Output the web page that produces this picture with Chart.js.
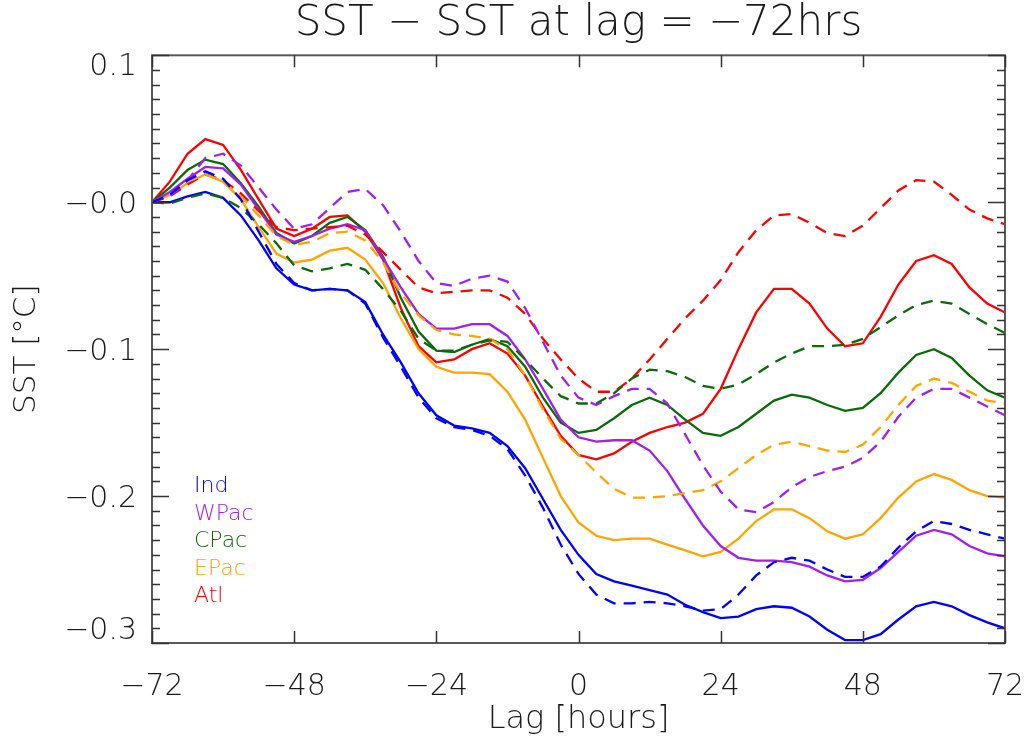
<!DOCTYPE html>
<html>
<head>
<meta charset="utf-8">
<title>SST − SST at lag = −72hrs</title>
<script src="https://cdn.jsdelivr.net/npm/chart.js@4/dist/chart.umd.min.js"></script>
<style>
  html, body { margin: 0; padding: 0; background: #ffffff; }
  canvas { display: block; }
</style>
</head>
<body>
<canvas id="sst" width="1027" height="744"></canvas>
<script>
// Lag in hours relative to the event
const hours = [-72, -69, -66, -63, -60, -57, -54, -51, -48, -45, -42, -39, -36,
  -33, -30, -27, -24, -21, -18, -15, -12, -9, -6, -3, 0,
  3, 6, 9, 12, 15, 18, 21, 24, 27, 30, 33, 36,
  39, 42, 45, 48, 51, 54, 57, 60, 63, 66, 69, 72];

// SST anomaly relative to lag -72 h (°C); solid and dashed composites per basin
const indSolid = [0, 0, 0.004, 0.007, 0.003, -0.009, -0.026, -0.045, -0.056, -0.060, -0.059, -0.060, -0.068,
  -0.090, -0.109, -0.130, -0.145, -0.152, -0.154, -0.157, -0.166, -0.181, -0.202, -0.223, -0.240,
  -0.253, -0.258, -0.261, -0.264, -0.267, -0.274, -0.279, -0.283, -0.282, -0.277, -0.275, -0.276,
  -0.282, -0.291, -0.298, -0.298, -0.294, -0.284, -0.275, -0.272, -0.275, -0.281, -0.286, -0.290];
const indDash = [0, 0.005, 0.015, 0.021, 0.016, 0.002, -0.020, -0.042, -0.055, -0.060, -0.059, -0.060, -0.069,
  -0.092, -0.112, -0.133, -0.147, -0.153, -0.155, -0.159, -0.168, -0.186, -0.208, -0.233, -0.253,
  -0.267, -0.273, -0.273, -0.272, -0.273, -0.275, -0.278, -0.277, -0.267, -0.254, -0.245, -0.242,
  -0.244, -0.250, -0.255, -0.255, -0.248, -0.235, -0.224, -0.217, -0.219, -0.223, -0.226, -0.229];
const wpacSolid = [0, 0.007, 0.016, 0.024, 0.023, 0.012, -0.005, -0.022, -0.027, -0.023, -0.018, -0.015, -0.019,
  -0.038, -0.058, -0.076, -0.086, -0.086, -0.083, -0.083, -0.091, -0.107, -0.127, -0.148, -0.160,
  -0.163, -0.162, -0.162, -0.169, -0.183, -0.202, -0.220, -0.234, -0.242, -0.244, -0.244, -0.245,
  -0.248, -0.254, -0.258, -0.257, -0.249, -0.238, -0.227, -0.223, -0.226, -0.234, -0.239, -0.241];
const wpacDash = [0, 0.004, 0.015, 0.030, 0.033, 0.025, 0.010, -0.005, -0.018, -0.015, -0.004, 0.007, 0.009,
  -0.002, -0.020, -0.040, -0.055, -0.057, -0.052, -0.050, -0.054, -0.072, -0.095, -0.118, -0.133,
  -0.138, -0.132, -0.127, -0.127, -0.137, -0.158, -0.179, -0.197, -0.209, -0.211, -0.204, -0.194,
  -0.187, -0.183, -0.180, -0.174, -0.163, -0.146, -0.133, -0.127, -0.127, -0.133, -0.139, -0.145];
const cpacSolid = [0, 0.010, 0.022, 0.029, 0.026, 0.013, -0.003, -0.021, -0.028, -0.023, -0.014, -0.010, -0.019,
  -0.037, -0.065, -0.088, -0.101, -0.102, -0.097, -0.093, -0.098, -0.112, -0.133, -0.150, -0.157,
  -0.155, -0.147, -0.138, -0.133, -0.138, -0.148, -0.157, -0.159, -0.153, -0.144, -0.135, -0.131,
  -0.133, -0.138, -0.142, -0.140, -0.130, -0.116, -0.104, -0.100, -0.106, -0.118, -0.128, -0.133];
const cpacDash = [0, -0.001, 0.003, 0.006, 0.003, -0.004, -0.015, -0.028, -0.043, -0.047, -0.045, -0.042, -0.046,
  -0.059, -0.074, -0.093, -0.101, -0.101, -0.097, -0.094, -0.095, -0.107, -0.120, -0.132, -0.137,
  -0.137, -0.130, -0.120, -0.114, -0.115, -0.119, -0.125, -0.127, -0.124, -0.117, -0.109, -0.103,
  -0.098, -0.098, -0.097, -0.093, -0.085, -0.077, -0.070, -0.067, -0.069, -0.076, -0.083, -0.089];
const epacSolid = [0, 0.005, 0.013, 0.019, 0.014, 0.002, -0.017, -0.035, -0.041, -0.039, -0.033, -0.031, -0.039,
  -0.055, -0.079, -0.100, -0.112, -0.116, -0.116, -0.117, -0.129, -0.148, -0.174, -0.200, -0.218,
  -0.227, -0.230, -0.229, -0.229, -0.233, -0.237, -0.241, -0.238, -0.229, -0.217, -0.209, -0.209,
  -0.215, -0.224, -0.229, -0.226, -0.215, -0.201, -0.190, -0.185, -0.189, -0.196, -0.200, -0.201];
const epacDash = [0, 0.005, 0.014, 0.019, 0.014, 0.004, -0.009, -0.023, -0.029, -0.027, -0.021, -0.020, -0.026,
  -0.041, -0.062, -0.077, -0.087, -0.090, -0.091, -0.093, -0.100, -0.118, -0.141, -0.161, -0.172,
  -0.184, -0.195, -0.201, -0.201, -0.200, -0.198, -0.196, -0.190, -0.181, -0.172, -0.165, -0.163,
  -0.166, -0.169, -0.170, -0.165, -0.153, -0.138, -0.125, -0.120, -0.123, -0.129, -0.135, -0.137];
const atlSolid = [0, 0.014, 0.033, 0.043, 0.039, 0.022, 0.002, -0.018, -0.023, -0.018, -0.010, -0.009, -0.020,
  -0.039, -0.072, -0.098, -0.109, -0.107, -0.100, -0.096, -0.103, -0.118, -0.139, -0.159, -0.172,
  -0.175, -0.171, -0.163, -0.157, -0.153, -0.150, -0.144, -0.127, -0.100, -0.075, -0.059, -0.059,
  -0.069, -0.086, -0.098, -0.096, -0.078, -0.056, -0.040, -0.036, -0.042, -0.058, -0.069, -0.075];
const atlDash = [0, 0.004, 0.012, 0.019, 0.015, 0.006, -0.006, -0.017, -0.019, -0.018, -0.017, -0.016, -0.022,
  -0.034, -0.046, -0.058, -0.062, -0.061, -0.060, -0.060, -0.065, -0.076, -0.093, -0.107, -0.120,
  -0.129, -0.129, -0.120, -0.107, -0.093, -0.079, -0.067, -0.053, -0.034, -0.019, -0.009, -0.008,
  -0.014, -0.021, -0.023, -0.016, -0.004, 0.008, 0.015, 0.014, 0.005, -0.005, -0.011, -0.015];

// Axis ticks and labels
const xTickValues = [-72, -48, -24, 0, 24, 48, 72];
const xTickLabels = ['\u221272', '\u221248', '\u221224', '0', '24', '48', '72'];
const yTickValues = [0.1, 0.0, -0.1, -0.2, -0.3];
const yTickLabels = ['0.1', '\u22120.0', '\u22120.1', '\u22120.2', '\u22120.3'];

// Basins, in legend order
const basinNames = ['Ind', 'WPac', 'CPac', 'EPac', 'Atl'];
const basinColors = ['#0000ff', '#a020f0', '#0b6b0b', '#ffa500', '#ff0000'];

const titleText = 'SST \u2212 SST at lag = \u221272hrs';
const xTitle = 'Lag [hours]';
const yTitle = 'SST [\u00b0C]';

const FONT = '"DejaVu Sans ExtraLight", "DejaVu Sans", sans-serif';
const TEXT_COLOR = '#1a1a1a';
const AXIS_COLOR = '#5a5a5a';

const solidSeries = [indSolid, wpacSolid, cpacSolid, epacSolid, atlSolid];
const dashSeries = [indDash, wpacDash, cpacDash, epacDash, atlDash];

function toPoints(values) {
  return hours.map((h, i) => ({ x: h, y: values[i] }));
}

const datasets = [];
basinNames.forEach((name, k) => {
  datasets.push({
    label: name + ' (dashed)',
    data: toPoints(dashSeries[k]),
    borderColor: basinColors[k],
    borderWidth: 2.3,
    borderDash: [12, 8],
    pointRadius: 0,
    tension: 0,
    fill: false
  });
});
basinNames.forEach((name, k) => {
  datasets.push({
    label: name,
    data: toPoints(solidSeries[k]),
    borderColor: basinColors[k],
    borderWidth: 2.3,
    pointRadius: 0,
    tension: 0,
    fill: false
  });
});

// Plot frame with inward tick marks on all four sides
const framePlugin = {
  id: 'frame',
  afterDraw(chart) {
    const { ctx, chartArea: a, scales: { x, y } } = chart;
    ctx.save();
    ctx.strokeStyle = AXIS_COLOR;
    ctx.lineWidth = 2;
    ctx.strokeRect(a.left, a.top, a.right - a.left, a.bottom - a.top);

    ctx.lineWidth = 1.5;
    ctx.strokeStyle = '#333333';
    ctx.beginPath();
    // minor ticks every 0.01 °C, major every 0.1 °C
    for (let n = -30; n <= 10; n++) {
      const py = Math.round(y.getPixelForValue(n / 100)) + 0.5;
      const len = (n % 10 === 0) ? 17 : 8;
      ctx.moveTo(a.left, py); ctx.lineTo(a.left + len, py);
      ctx.moveTo(a.right, py); ctx.lineTo(a.right - len, py);
    }
    xTickValues.forEach(v => {
      const px = Math.round(x.getPixelForValue(v)) + 0.5;
      ctx.moveTo(px, a.bottom); ctx.lineTo(px, a.bottom - 12);
      ctx.moveTo(px, a.top); ctx.lineTo(px, a.top + 12);
    });
    ctx.stroke();

    // y tick labels, kept inside the vertical extent of the axis
    ctx.font = '200 30px ' + FONT;
    ctx.fillStyle = TEXT_COLOR;
    ctx.textAlign = 'right';
    ctx.textBaseline = 'middle';
    const half = 12;
    yTickValues.forEach((v, i) => {
      let py = y.getPixelForValue(v) + 3;
      py = Math.max(a.top + half, Math.min(a.bottom - half, py));
      ctx.fillText(yTickLabels[i], a.left - 15, py);
    });
    ctx.restore();
  }
};

// Coloured basin names in the lower-left of the plot
const basinLegend = {
  id: 'basinLegend',
  afterDraw(chart) {
    const { ctx, chartArea: a } = chart;
    ctx.save();
    ctx.font = '200 22px ' + FONT;
    ctx.textAlign = 'left';
    ctx.textBaseline = 'middle';
    basinNames.forEach((name, k) => {
      ctx.fillStyle = basinColors[k];
      ctx.fillText(name, a.left + 42, a.top + 431 + k * 27.6);
    });
    ctx.restore();
  }
};

new Chart(document.getElementById('sst'), {
  type: 'line',
  data: { datasets },
  options: {
    responsive: false,
    animation: false,
    events: [],
    layout: { padding: { left: 0, right: 22, top: 0, bottom: 0 } },
    plugins: {
      legend: { display: false },
      tooltip: { enabled: false },
      title: {
        display: true,
        text: titleText,
        fullSize: false,
        color: TEXT_COLOR,
        font: { family: FONT, size: 42, weight: 200, lineHeight: 1.15 },
        padding: { top: 0, bottom: 7 }
      }
    },
    scales: {
      x: {
        type: 'linear',
        min: -72,
        max: 72,
        afterFit(scale) {
          scale.height = 101;
          // edge labels may overhang; the frame spans the full width regardless
          scale.paddingLeft = 0;
          scale.paddingRight = 0;
        },
        afterBuildTicks(scale) { scale.ticks = xTickValues.map(v => ({ value: v })); },
        grid: { display: false, drawTicks: false },
        border: { display: false },
        ticks: {
          autoSkip: false,
          maxRotation: 0,
          padding: 26,
          color: TEXT_COLOR,
          font: { family: FONT, size: 30, weight: 200 },
          callback(value) {
            const i = xTickValues.indexOf(value);
            return i >= 0 ? xTickLabels[i] : '';
          }
        },
        title: {
          display: true,
          text: xTitle,
          color: TEXT_COLOR,
          font: { family: FONT, size: 32, weight: 200, lineHeight: 1.2 },
          padding: { top: 0, bottom: 5 }
        }
      },
      y: {
        type: 'linear',
        min: -0.3,
        max: 0.1,
        afterFit(scale) {
          scale.width = 152;
          scale.paddingTop = 0;
          scale.paddingBottom = 0;
        },
        grid: { display: false, drawTicks: false },
        border: { display: false },
        ticks: { display: false },
        title: {
          display: true,
          text: yTitle,
          color: TEXT_COLOR,
          font: { family: FONT, size: 31, weight: 200, lineHeight: 1.2 },
          padding: { top: 8, bottom: 0 }
        }
      }
    }
  },
  plugins: [framePlugin, basinLegend]
});
</script>
</body>
</html>
